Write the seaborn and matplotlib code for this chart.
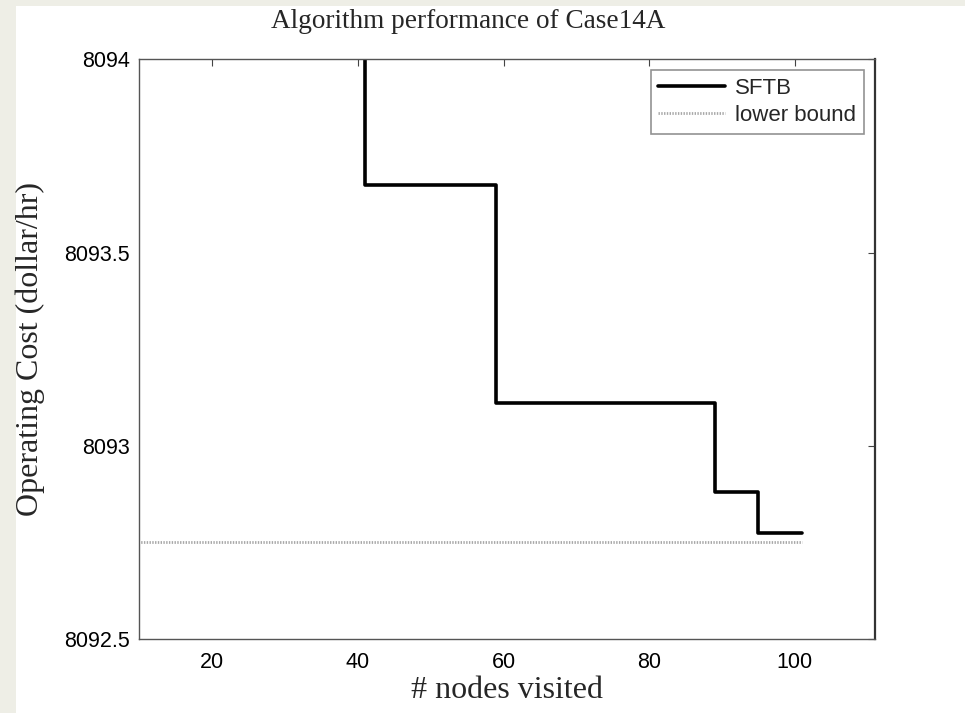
import matplotlib
matplotlib.use("Agg")
import matplotlib.pyplot as plt
import matplotlib.patches as mpatches
from matplotlib.ticker import FuncFormatter
import seaborn as sns
import pandas as pd

# ---- data ----
sftb_nodes = [1, 41, 59, 89, 95, 101]
sftb_cost = [8094.4, 8093.675, 8093.11, 8092.88, 8092.775, 8092.775]
lb_nodes = [1, 101]
lb_cost = [8092.752, 8092.752]
x_ticks = [20, 40, 60, 80, 100]
y_ticks = [8092.5, 8093, 8093.5, 8094]

title = "Algorithm performance of Case14A"
xlabel = "# nodes visited"
ylabel = "Operating Cost (dollar/hr)"

sns.set_theme(style="white")
plt.rcParams["font.family"] = ["Liberation Sans", "DejaVu Sans"]

fig = plt.figure(figsize=(9.65, 7.13), dpi=100, facecolor="#EEEEE6")
fig.patches.append(mpatches.Rectangle((16 / 965, 0), 1, 1 - 6 / 713,
                                      transform=fig.transFigure,
                                      facecolor="white", edgecolor="none",
                                      zorder=-10))
ax = fig.add_axes([139.3 / 965, 1 - 639.3 / 713, (875 - 139.3) / 965,
                   (639.3 - 59.3) / 713])
ax.set_zorder(5)
ax.set_facecolor("white")

df_s = pd.DataFrame({"nodes": sftb_nodes, "cost": sftb_cost})
df_l = pd.DataFrame({"nodes": lb_nodes, "cost": lb_cost})

sns.lineplot(data=df_s, x="nodes", y="cost", ax=ax, color="black",
             linewidth=2.6, drawstyle="steps-post", label="SFTB")
sns.lineplot(data=df_l, x="nodes", y="cost", ax=ax, color="#a8a8a8",
             linewidth=2.0, dashes=False, linestyle=(0, (0.5, 0.5)),
             label="lower bound")

ax.set_xlim(10, 111)
ax.set_ylim(8092.5, 8094)
ax.set_xticks(x_ticks)
ax.set_yticks(y_ticks)
ax.yaxis.set_major_formatter(FuncFormatter(lambda v, p: f"{v:g}"))
ax.tick_params(direction="in", length=5, width=0.8, color="#444444",
               top=True, right=True, labelsize=15.5, pad=7,
               labelcolor="black")
ax.tick_params(axis="x", pad=9)
for s in ax.spines.values():
    s.set_color("#555555")
    s.set_linewidth(1.0)
    s.set_visible(True)
ax.spines["right"].set_color("#333333")
ax.spines["right"].set_linewidth(1.6)

ax.set_xlabel("")
ax.set_ylabel("")
serif = ["Liberation Serif", "DejaVu Serif"]
fig.text(468.5 / 965, 1 - 22 / 713, title, ha="center", va="center",
         fontsize=19.6, family=serif)
fig.text(507 / 965, 1 - 691 / 713, xlabel, ha="center", va="center",
         fontsize=23, family=serif)
fig.text(30 / 965, 1 - 349 / 713, ylabel, ha="center", va="center",
         rotation=90, fontsize=23, family=serif)

leg = ax.legend(loc="upper right", fontsize=16, frameon=True, fancybox=False,
                handlelength=3.0, borderaxespad=0.5, borderpad=0.35,
                labelspacing=0.25, handletextpad=0.45)
leg.get_frame().set_edgecolor("#777777")
leg.get_frame().set_linewidth(1.2)

fig.savefig("out.png", dpi=100, facecolor=fig.get_facecolor())
